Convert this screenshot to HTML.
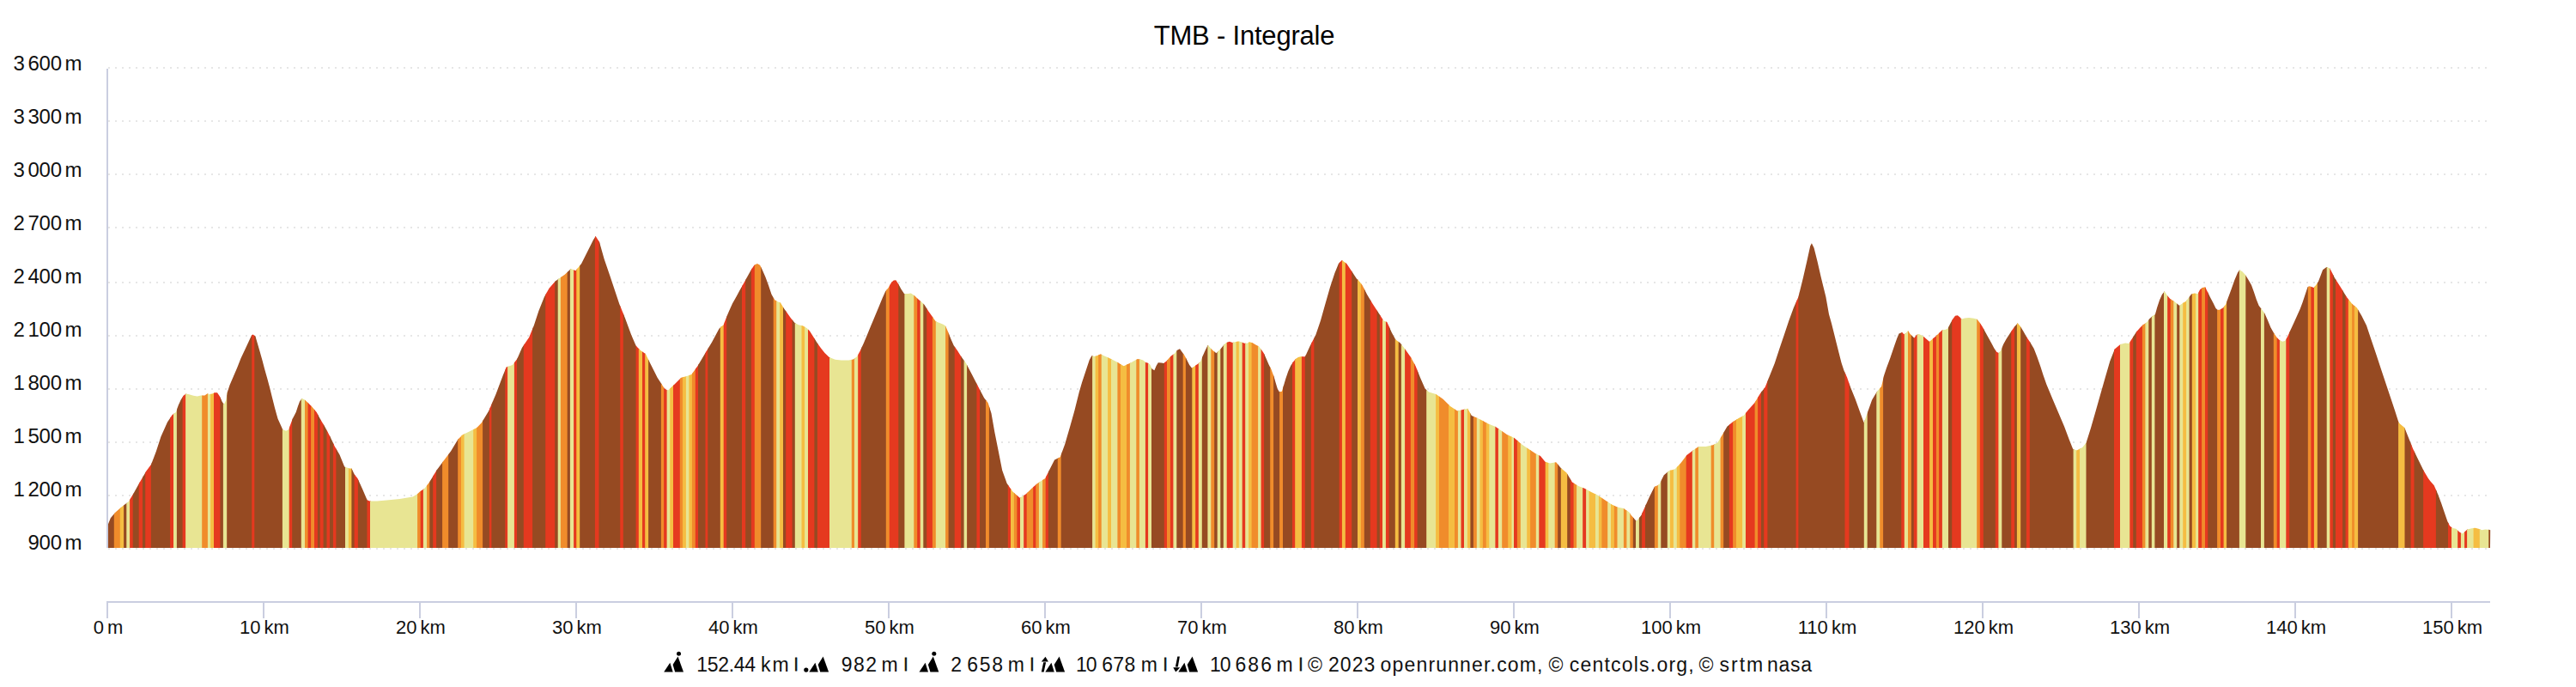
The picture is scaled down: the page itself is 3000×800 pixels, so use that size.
<!DOCTYPE html>
<html><head><meta charset="utf-8"><title>TMB - Integrale</title>
<style>html,body{margin:0;padding:0;background:#fff}svg{display:block}text{font-family:'Liberation Sans', sans-serif;fill:#111}</style></head><body>
<svg width="3000" height="800" viewBox="0 0 3000 800">
<rect width="3000" height="800" fill="#fff"/>
<g stroke="#e6e6e6" stroke-width="2" stroke-dasharray="2,6" fill="none">
<path d="M126,79 H2900"/>
<path d="M126,141 H2900"/>
<path d="M126,203 H2900"/>
<path d="M126,265 H2900"/>
<path d="M126,329 H2900"/>
<path d="M126,391 H2900"/>
<path d="M126,453 H2900"/>
<path d="M126,515 H2900"/>
<path d="M126,577 H2900"/>
<path d="M126,639 H2900"/>
</g>
<clipPath id="sil"><path d="M125,638 L125.0,614.6 L126.1,610.1 L128.8,603.2 L134.5,596.4 L142.0,590.0 L149.6,584.3 L155.3,574.9 L162.8,561.6 L170.4,548.4 L176.1,540.8 L181.8,525.7 L187.4,508.6 L195.0,491.6 L200.7,482.9 L204.9,480.0 L207.8,471.7 L210.8,465.2 L213.7,460.8 L216.6,458.6 L220.2,459.3 L225.3,460.8 L229.7,461.5 L234.1,460.4 L238.4,460.4 L241.6,458.3 L243.5,459.3 L247.2,458.6 L250.1,457.2 L253.0,457.2 L255.9,461.5 L258.8,468.1 L261.0,471.0 L263.2,465.9 L264.6,457.2 L267.5,448.4 L271.9,438.2 L276.3,428.0 L280.6,417.1 L285.0,407.7 L289.4,398.2 L293.0,390.5 L294.5,389.5 L297.4,391.6 L299.6,398.9 L302.5,409.1 L305.4,419.3 L308.3,430.2 L311.2,440.4 L314.1,451.3 L317.0,463.0 L319.9,474.6 L321.4,480.0 L323.6,487.8 L329.3,500.3 L333.1,501.8 L336.1,500.3 L340.7,487.8 L344.7,480.0 L346.9,473.2 L349.1,467.3 L351.7,464.1 L354.9,465.6 L359.2,469.5 L363.6,473.9 L368.7,480.0 L372.8,487.8 L378.5,497.3 L384.2,507.9 L389.9,520.0 L395.5,529.5 L401.2,543.5 L406.9,545.4 L409.5,545.4 L412.6,552.2 L416.4,557.1 L422.0,569.2 L427.7,582.4 L430.7,583.6 L439.1,583.6 L450.4,582.4 L465.5,580.9 L480.7,578.6 L486.4,574.9 L489.0,572.6 L494.5,568.7 L500.1,561.5 L508.4,547.7 L516.7,536.6 L525.0,525.5 L533.3,511.7 L538.8,506.2 L547.1,502.3 L555.4,497.9 L560.9,492.3 L569.2,478.5 L577.5,459.1 L585.8,437.0 L589.7,427.6 L596.9,424.9 L602.4,417.7 L607.9,404.9 L616.2,392.8 L621.8,378.9 L627.3,362.3 L633.9,345.7 L639.5,335.8 L646.7,327.5 L652.2,323.6 L657.7,319.7 L664.9,313.1 L670.4,315.3 L677.1,307.0 L685.4,290.4 L690.9,279.4 L693.7,274.9 L698.1,282.1 L703.6,301.5 L710.3,320.9 L715.8,337.4 L721.3,354.0 L728.0,370.6 L735.2,390.0 L740.7,402.7 L746.2,408.3 L751.8,412.1 L757.3,423.2 L765.6,439.8 L773.9,452.5 L777.8,454.7 L785.0,448.1 L793.3,439.8 L799.9,438.1 L805.4,435.9 L812.6,426.0 L820.9,412.1 L829.2,398.3 L837.5,382.8 L840.0,380.3 L842.6,378.6 L845.2,371.6 L848.7,362.9 L853.1,353.3 L857.5,345.4 L861.8,337.5 L866.2,329.7 L870.6,321.8 L874.9,314.0 L878.4,308.7 L881.9,307.0 L885.1,308.7 L888.0,314.8 L891.5,322.7 L895.0,332.3 L898.5,342.8 L902.0,348.9 L905.5,351.2 L909.0,352.4 L912.5,358.5 L916.8,364.6 L921.2,370.7 L925.6,376.0 L929.9,378.2 L935.2,379.5 L939.5,382.1 L943.0,385.6 L947.4,392.5 L951.8,399.5 L956.1,405.6 L960.5,410.9 L965.7,416.1 L972.7,418.7 L979.7,419.6 L988.4,419.6 L993.7,418.4 L998.0,415.3 L1001.5,409.1 L1005.9,399.5 L1010.3,389.1 L1014.6,378.6 L1019.0,368.1 L1023.4,357.6 L1027.7,347.1 L1031.2,339.3 L1034.7,334.9 L1038.2,328.8 L1040.8,326.5 L1043.4,326.2 L1046.1,330.6 L1049.5,336.7 L1053.0,341.9 L1057.4,341.9 L1060.9,341.6 L1065.3,344.5 L1068.8,348.0 L1073.1,351.5 L1076.6,355.0 L1081.0,362.0 L1085.3,368.1 L1089.7,374.2 L1094.1,376.0 L1098.4,377.7 L1101.1,379.5 L1103.7,385.6 L1107.2,394.3 L1110.7,402.2 L1115.0,408.3 L1119.4,415.3 L1122.9,420.0 L1125.2,423.2 L1132.4,437.0 L1139.6,450.9 L1146.2,463.6 L1150.6,469.1 L1154.5,481.3 L1158.4,503.4 L1162.8,525.5 L1167.2,547.7 L1172.7,563.1 L1179.4,572.6 L1187.7,579.7 L1194.9,575.3 L1201.5,568.7 L1208.1,563.1 L1216.4,557.6 L1217.0,557.6 L1222.5,546.6 L1228.1,535.5 L1234.7,532.2 L1240.2,517.2 L1245.8,497.9 L1251.3,478.5 L1256.8,456.4 L1260.0,445.5 L1262.9,436.8 L1265.8,428.0 L1268.7,419.3 L1271.4,414.2 L1274.6,414.9 L1277.5,414.2 L1281.8,412.3 L1285.5,414.2 L1289.1,415.7 L1293.5,417.8 L1297.8,420.0 L1302.2,422.2 L1305.9,424.8 L1308.8,426.3 L1312.4,424.4 L1316.8,422.5 L1321.1,420.0 L1324.8,418.1 L1328.4,418.6 L1331.3,419.6 L1334.2,421.9 L1336.4,422.5 L1339.3,424.4 L1341.5,429.5 L1344.4,431.2 L1346.6,425.9 L1348.8,422.2 L1352.4,422.5 L1355.4,422.9 L1359.0,420.0 L1361.9,416.4 L1364.8,413.8 L1367.7,412.0 L1370.6,408.0 L1374.0,406.2 L1376.5,409.8 L1379.4,413.8 L1382.3,419.3 L1385.2,425.1 L1388.1,428.8 L1391.7,425.9 L1395.4,423.4 L1398.3,420.8 L1400.5,414.9 L1403.4,408.4 L1406.7,401.8 L1409.9,405.5 L1412.9,408.4 L1416.5,411.3 L1418.7,409.1 L1421.6,406.2 L1425.2,401.8 L1428.1,398.9 L1431.8,397.8 L1435.4,398.9 L1438.3,398.2 L1442.0,397.5 L1445.6,398.2 L1449.2,399.7 L1452.2,399.7 L1455.1,398.2 L1458.7,399.2 L1462.4,401.5 L1466.0,403.3 L1468.9,406.9 L1471.8,411.3 L1474.7,417.8 L1477.6,424.4 L1480.5,430.2 L1483.5,438.2 L1485.6,445.5 L1487.8,452.8 L1490.0,456.4 L1492.9,455.7 L1495.1,448.4 L1497.3,441.1 L1500.2,432.4 L1503.1,425.9 L1506.0,421.5 L1508.9,418.1 L1511.8,416.1 L1514.8,415.2 L1520.0,415.2 L1525.7,402.7 L1532.3,390.0 L1537.9,373.4 L1543.4,354.0 L1548.9,334.7 L1554.4,318.1 L1558.9,307.0 L1562.7,303.1 L1568.3,307.0 L1573.8,315.3 L1580.4,325.3 L1581.0,325.3 L1586.5,331.9 L1592.1,343.0 L1598.7,354.0 L1605.9,365.1 L1611.4,373.4 L1615.3,375.1 L1620.8,387.2 L1625.3,395.5 L1630.8,399.4 L1636.3,406.6 L1643.0,416.0 L1648.5,426.0 L1654.0,439.8 L1659.6,452.5 L1664.0,456.4 L1672.3,459.1 L1680.6,464.7 L1688.9,473.0 L1697.2,478.5 L1703.8,476.9 L1709.3,475.7 L1713.8,484.0 L1720.4,486.8 L1725.9,489.6 L1733.1,493.4 L1741.4,496.8 L1747.0,500.6 L1755.3,506.2 L1763.6,510.0 L1771.9,517.2 L1780.1,522.8 L1788.4,528.3 L1794.0,531.1 L1799.5,537.7 L1805.0,539.4 L1812.2,538.3 L1817.8,544.9 L1824.4,550.4 L1831.0,561.5 L1838.2,565.9 L1845.4,568.7 L1852.1,572.6 L1860.4,576.4 L1868.7,582.0 L1877.0,587.5 L1884.1,590.8 L1890.8,591.9 L1897.4,596.5 L1899.7,600.0 L1905.8,607.0 L1911.4,600.0 L1915.6,590.5 L1921.2,578.1 L1926.7,567.0 L1932.3,564.3 L1937.8,553.2 L1944.4,547.7 L1945.0,547.7 L1950.5,546.6 L1957.2,539.4 L1964.4,530.0 L1971.6,524.4 L1978.2,520.0 L1986.5,520.0 L1994.8,518.3 L2000.3,515.6 L2005.9,506.2 L2011.4,496.8 L2018.0,491.2 L2025.2,486.8 L2030.7,484.0 L2036.3,476.9 L2043.5,469.1 L2050.1,458.0 L2055.6,450.9 L2061.2,437.0 L2066.7,423.2 L2072.2,406.6 L2077.8,390.0 L2083.3,373.4 L2088.8,358.5 L2094.4,345.7 L2099.9,323.6 L2104.3,304.3 L2108.2,286.6 L2109.9,283.2 L2112.6,288.8 L2116.5,304.3 L2120.9,323.6 L2126.4,345.7 L2130.0,366.0 L2132.9,376.2 L2135.8,387.8 L2138.7,399.5 L2141.6,411.1 L2144.6,422.8 L2147.5,431.5 L2151.1,439.5 L2154.7,450.0 L2160.7,464.7 L2166.3,480.2 L2170.7,492.3 L2174.6,481.3 L2180.1,465.8 L2185.6,456.4 L2191.1,450.0 L2194.1,437.3 L2197.0,428.6 L2201.3,417.0 L2205.7,403.9 L2209.3,393.7 L2211.5,388.6 L2215.2,387.1 L2217.3,389.3 L2219.5,388.1 L2222.0,384.9 L2224.6,389.0 L2227.2,391.5 L2229.3,393.7 L2231.9,390.0 L2234.8,389.0 L2238.5,390.8 L2240.6,392.2 L2244.3,395.4 L2247.2,398.0 L2250.8,394.4 L2254.5,391.5 L2258.1,388.1 L2261.7,384.6 L2266.1,383.8 L2268.6,382.3 L2271.2,376.9 L2274.1,371.8 L2277.0,367.8 L2279.9,367.2 L2282.9,369.7 L2284.3,371.8 L2288.0,370.4 L2293.0,370.1 L2298.9,370.7 L2302.5,371.8 L2305.4,375.5 L2308.3,379.8 L2312.0,386.4 L2315.6,392.9 L2319.2,399.5 L2322.2,405.3 L2325.1,409.7 L2327.7,411.1 L2330.2,408.2 L2333.1,401.0 L2336.7,394.4 L2341.1,387.8 L2345.5,381.3 L2349.8,376.2 L2352.7,379.8 L2356.4,385.7 L2360.0,392.2 L2364.4,398.8 L2368.7,406.0 L2372.4,415.5 L2376.0,425.7 L2379.7,437.3 L2383.3,447.5 L2390.9,465.8 L2397.5,481.3 L2404.1,496.8 L2409.7,511.7 L2414.1,522.8 L2418.5,524.4 L2425.2,521.1 L2429.6,515.6 L2435.1,497.9 L2440.7,478.5 L2446.2,459.1 L2451.7,439.8 L2457.3,420.4 L2462.8,406.6 L2469.4,401.1 L2475.0,399.4 L2479.3,400.0 L2483.7,393.2 L2488.0,386.6 L2492.4,381.5 L2496.0,377.9 L2499.7,375.7 L2503.3,371.3 L2507.0,367.7 L2509.9,366.2 L2512.1,358.2 L2515.0,349.5 L2517.9,342.9 L2520.8,339.3 L2523.7,343.7 L2527.3,348.0 L2531.0,350.2 L2534.6,353.1 L2538.3,356.0 L2541.9,353.1 L2545.5,351.0 L2548.5,347.3 L2552.1,342.5 L2555.7,341.5 L2559.4,342.2 L2562.3,337.1 L2565.2,334.9 L2568.1,334.2 L2571.0,340.0 L2573.9,345.9 L2577.6,353.1 L2580.5,359.0 L2582.7,361.1 L2585.6,360.4 L2589.2,358.2 L2592.1,354.6 L2595.0,346.6 L2598.7,336.4 L2602.3,326.2 L2606.0,317.5 L2608.1,314.6 L2611.1,316.0 L2614.7,319.7 L2618.3,325.5 L2622.0,332.0 L2624.9,340.0 L2627.8,348.8 L2630.7,356.0 L2633.6,359.7 L2637.3,364.8 L2640.9,372.8 L2644.5,381.5 L2648.2,388.1 L2651.8,393.2 L2655.5,396.8 L2658.4,397.8 L2661.3,396.8 L2664.2,391.7 L2667.8,383.7 L2671.5,375.7 L2675.1,367.7 L2678.7,359.7 L2681.7,351.7 L2684.6,342.9 L2687.5,334.2 L2689.7,333.2 L2692.6,334.2 L2694.8,334.9 L2697.7,331.3 L2700.0,327.7 L2705.1,314.2 L2709.5,310.9 L2713.4,312.6 L2718.9,323.6 L2726.1,334.7 L2732.8,345.7 L2739.4,354.0 L2744.9,358.5 L2750.5,367.9 L2756.0,378.9 L2761.5,395.5 L2767.1,412.1 L2772.6,428.7 L2778.1,445.3 L2783.7,461.9 L2789.2,478.5 L2793.6,492.3 L2800.3,497.9 L2804.7,508.9 L2810.2,522.8 L2816.9,536.6 L2822.4,547.7 L2827.9,557.1 L2830.1,560.0 L2834.7,565.2 L2839.3,575.7 L2843.2,586.2 L2847.2,598.0 L2850.4,607.2 L2853.1,612.4 L2856.3,615.0 L2860.3,615.7 L2864.2,619.6 L2867.5,621.6 L2870.7,619.0 L2873.4,616.6 L2878.6,615.3 L2882.5,614.8 L2886.5,615.7 L2890.4,617.2 L2894.3,616.6 L2898.3,616.7 L2900.2,617.2 L2900,638 Z"/></clipPath>
<g clip-path="url(#sil)">
<rect x="125.0" y="260" width="8.8" height="380" fill="#964a22"/>
<rect x="132.8" y="260" width="8.1" height="380" fill="#f08c2b"/>
<rect x="139.8" y="260" width="5.2" height="380" fill="#f5bd42"/>
<rect x="144.1" y="260" width="4.2" height="380" fill="#964a22"/>
<rect x="147.3" y="260" width="4.9" height="380" fill="#e8e593"/>
<rect x="151.1" y="260" width="4.5" height="380" fill="#e5391f"/>
<rect x="154.7" y="260" width="8.1" height="380" fill="#964a22"/>
<rect x="161.7" y="260" width="5.2" height="380" fill="#e5391f"/>
<rect x="166.0" y="260" width="4.2" height="380" fill="#964a22"/>
<rect x="169.2" y="260" width="7.7" height="380" fill="#e5391f"/>
<rect x="175.9" y="260" width="23.3" height="380" fill="#964a22"/>
<rect x="198.1" y="260" width="4.9" height="380" fill="#e5391f"/>
<rect x="202.0" y="260" width="4.9" height="380" fill="#e8e593"/>
<rect x="205.9" y="260" width="7.7" height="380" fill="#964a22"/>
<rect x="212.6" y="260" width="4.5" height="380" fill="#e5391f"/>
<rect x="216.1" y="260" width="20.1" height="380" fill="#e8e593"/>
<rect x="235.2" y="260" width="7.7" height="380" fill="#f08c2b"/>
<rect x="241.9" y="260" width="4.2" height="380" fill="#e8e593"/>
<rect x="245.1" y="260" width="4.9" height="380" fill="#f5bd42"/>
<rect x="249.0" y="260" width="8.4" height="380" fill="#e5391f"/>
<rect x="256.4" y="260" width="4.5" height="380" fill="#964a22"/>
<rect x="259.9" y="260" width="5.2" height="380" fill="#e8e593"/>
<rect x="264.2" y="260" width="30.0" height="380" fill="#964a22"/>
<rect x="293.2" y="260" width="4.2" height="380" fill="#e5391f"/>
<rect x="296.3" y="260" width="33.6" height="380" fill="#964a22"/>
<rect x="328.9" y="260" width="8.8" height="380" fill="#e8e593"/>
<rect x="336.7" y="260" width="4.5" height="380" fill="#e5391f"/>
<rect x="340.2" y="260" width="11.6" height="380" fill="#964a22"/>
<rect x="350.8" y="260" width="5.2" height="380" fill="#e8e593"/>
<rect x="355.0" y="260" width="4.5" height="380" fill="#f08c2b"/>
<rect x="358.6" y="260" width="4.5" height="380" fill="#e5391f"/>
<rect x="362.1" y="260" width="4.9" height="380" fill="#f08c2b"/>
<rect x="366.0" y="260" width="4.9" height="380" fill="#e5391f"/>
<rect x="369.9" y="260" width="3.8" height="380" fill="#964a22"/>
<rect x="372.7" y="260" width="4.9" height="380" fill="#e5391f"/>
<rect x="376.6" y="260" width="4.9" height="380" fill="#964a22"/>
<rect x="380.5" y="260" width="4.5" height="380" fill="#e5391f"/>
<rect x="384.0" y="260" width="4.9" height="380" fill="#964a22"/>
<rect x="387.9" y="260" width="4.5" height="380" fill="#e5391f"/>
<rect x="391.4" y="260" width="11.6" height="380" fill="#964a22"/>
<rect x="402.0" y="260" width="4.9" height="380" fill="#e8e593"/>
<rect x="405.9" y="260" width="4.5" height="380" fill="#f5bd42"/>
<rect x="409.4" y="260" width="4.2" height="380" fill="#964a22"/>
<rect x="412.6" y="260" width="5.2" height="380" fill="#e5391f"/>
<rect x="416.9" y="260" width="11.6" height="380" fill="#964a22"/>
<rect x="427.5" y="260" width="4.5" height="380" fill="#e5391f"/>
<rect x="431.0" y="260" width="56.1" height="380" fill="#e8e593"/>
<rect x="486.1" y="260" width="4.6" height="380" fill="#f08c2b"/>
<rect x="489.7" y="260" width="4.2" height="380" fill="#e5391f"/>
<rect x="492.9" y="260" width="5.2" height="380" fill="#e8e593"/>
<rect x="497.1" y="260" width="4.2" height="380" fill="#f08c2b"/>
<rect x="500.3" y="260" width="4.9" height="380" fill="#964a22"/>
<rect x="504.2" y="260" width="4.9" height="380" fill="#e5391f"/>
<rect x="508.1" y="260" width="8.1" height="380" fill="#964a22"/>
<rect x="515.1" y="260" width="8.1" height="380" fill="#f08c2b"/>
<rect x="522.2" y="260" width="12.0" height="380" fill="#964a22"/>
<rect x="533.2" y="260" width="4.9" height="380" fill="#f08c2b"/>
<rect x="537.0" y="260" width="4.5" height="380" fill="#f5bd42"/>
<rect x="540.6" y="260" width="11.6" height="380" fill="#e8e593"/>
<rect x="551.2" y="260" width="4.9" height="380" fill="#f5bd42"/>
<rect x="555.1" y="260" width="8.1" height="380" fill="#f08c2b"/>
<rect x="562.1" y="260" width="8.8" height="380" fill="#964a22"/>
<rect x="569.9" y="260" width="3.5" height="380" fill="#e5391f"/>
<rect x="572.4" y="260" width="16.9" height="380" fill="#964a22"/>
<rect x="588.3" y="260" width="3.8" height="380" fill="#e5391f"/>
<rect x="591.1" y="260" width="8.8" height="380" fill="#e8e593"/>
<rect x="598.9" y="260" width="4.2" height="380" fill="#e5391f"/>
<rect x="602.0" y="260" width="8.8" height="380" fill="#964a22"/>
<rect x="609.8" y="260" width="11.2" height="380" fill="#e5391f"/>
<rect x="620.1" y="260" width="16.2" height="380" fill="#964a22"/>
<rect x="635.2" y="260" width="12.0" height="380" fill="#e5391f"/>
<rect x="646.2" y="260" width="4.5" height="380" fill="#964a22"/>
<rect x="649.7" y="260" width="4.2" height="380" fill="#e8e593"/>
<rect x="652.9" y="260" width="8.8" height="380" fill="#f08c2b"/>
<rect x="660.7" y="260" width="4.2" height="380" fill="#964a22"/>
<rect x="663.9" y="260" width="5.2" height="380" fill="#e8e593"/>
<rect x="668.1" y="260" width="3.9" height="380" fill="#e5391f"/>
<rect x="671.0" y="260" width="1.7" height="380" fill="#f08c2b"/>
<rect x="671.7" y="260" width="4.5" height="380" fill="#f5bd42"/>
<rect x="675.2" y="260" width="18.7" height="380" fill="#964a22"/>
<rect x="692.9" y="260" width="5.6" height="380" fill="#e5391f"/>
<rect x="697.5" y="260" width="25.7" height="380" fill="#964a22"/>
<rect x="722.2" y="260" width="4.5" height="380" fill="#e5391f"/>
<rect x="725.8" y="260" width="15.8" height="380" fill="#964a22"/>
<rect x="740.6" y="260" width="4.2" height="380" fill="#e5391f"/>
<rect x="743.8" y="260" width="5.2" height="380" fill="#f5bd42"/>
<rect x="748.0" y="260" width="4.2" height="380" fill="#e5391f"/>
<rect x="751.2" y="260" width="4.9" height="380" fill="#f5bd42"/>
<rect x="755.1" y="260" width="15.8" height="380" fill="#964a22"/>
<rect x="769.9" y="260" width="4.2" height="380" fill="#f08c2b"/>
<rect x="773.1" y="260" width="4.5" height="380" fill="#e5391f"/>
<rect x="776.6" y="260" width="4.5" height="380" fill="#e8e593"/>
<rect x="780.2" y="260" width="4.9" height="380" fill="#f5bd42"/>
<rect x="784.0" y="260" width="8.8" height="380" fill="#e5391f"/>
<rect x="791.8" y="260" width="4.2" height="380" fill="#f08c2b"/>
<rect x="795.0" y="260" width="4.9" height="380" fill="#f5bd42"/>
<rect x="798.9" y="260" width="4.5" height="380" fill="#e8e593"/>
<rect x="802.4" y="260" width="4.5" height="380" fill="#f5bd42"/>
<rect x="805.9" y="260" width="4.9" height="380" fill="#f08c2b"/>
<rect x="809.8" y="260" width="4.2" height="380" fill="#e5391f"/>
<rect x="813.0" y="260" width="9.5" height="380" fill="#964a22"/>
<rect x="821.5" y="260" width="3.8" height="380" fill="#e5391f"/>
<rect x="824.3" y="260" width="15.5" height="380" fill="#964a22"/>
<rect x="838.8" y="260" width="4.9" height="380" fill="#f5bd42"/>
<rect x="842.7" y="260" width="4.5" height="380" fill="#e5391f"/>
<rect x="846.2" y="260" width="18.7" height="380" fill="#964a22"/>
<rect x="864.0" y="260" width="5.2" height="380" fill="#e5391f"/>
<rect x="868.2" y="260" width="7.7" height="380" fill="#964a22"/>
<rect x="874.9" y="260" width="4.9" height="380" fill="#e5391f"/>
<rect x="878.8" y="260" width="8.4" height="380" fill="#f08c2b"/>
<rect x="886.2" y="260" width="15.5" height="380" fill="#964a22"/>
<rect x="900.7" y="260" width="4.5" height="380" fill="#f08c2b"/>
<rect x="904.2" y="260" width="4.9" height="380" fill="#e8e593"/>
<rect x="908.1" y="260" width="4.9" height="380" fill="#f5bd42"/>
<rect x="912.0" y="260" width="4.2" height="380" fill="#964a22"/>
<rect x="915.2" y="260" width="8.4" height="380" fill="#e5391f"/>
<rect x="922.6" y="260" width="4.2" height="380" fill="#964a22"/>
<rect x="925.8" y="260" width="8.8" height="380" fill="#e8e593"/>
<rect x="933.5" y="260" width="4.5" height="380" fill="#f5bd42"/>
<rect x="937.1" y="260" width="4.9" height="380" fill="#e8e593"/>
<rect x="941.0" y="260" width="8.4" height="380" fill="#e5391f"/>
<rect x="948.4" y="260" width="4.5" height="380" fill="#964a22"/>
<rect x="951.9" y="260" width="15.1" height="380" fill="#e5391f"/>
<rect x="966.0" y="260" width="26.8" height="380" fill="#e8e593"/>
<rect x="991.8" y="260" width="4.2" height="380" fill="#f08c2b"/>
<rect x="995.0" y="260" width="5.2" height="380" fill="#e8e593"/>
<rect x="999.2" y="260" width="4.5" height="380" fill="#e5391f"/>
<rect x="1002.8" y="260" width="30.0" height="380" fill="#964a22"/>
<rect x="1031.8" y="260" width="5.1" height="380" fill="#f08c2b"/>
<rect x="1035.8" y="260" width="11.5" height="380" fill="#e5391f"/>
<rect x="1046.3" y="260" width="8.1" height="380" fill="#964a22"/>
<rect x="1053.4" y="260" width="12.0" height="380" fill="#e8e593"/>
<rect x="1064.3" y="260" width="4.9" height="380" fill="#f08c2b"/>
<rect x="1068.2" y="260" width="4.5" height="380" fill="#e5391f"/>
<rect x="1071.7" y="260" width="4.5" height="380" fill="#e8e593"/>
<rect x="1075.3" y="260" width="4.9" height="380" fill="#964a22"/>
<rect x="1079.2" y="260" width="7.7" height="380" fill="#e5391f"/>
<rect x="1085.9" y="260" width="4.9" height="380" fill="#f08c2b"/>
<rect x="1089.8" y="260" width="12.3" height="380" fill="#e8e593"/>
<rect x="1101.1" y="260" width="4.5" height="380" fill="#f08c2b"/>
<rect x="1104.6" y="260" width="8.1" height="380" fill="#964a22"/>
<rect x="1111.7" y="260" width="8.4" height="380" fill="#e5391f"/>
<rect x="1119.1" y="260" width="4.5" height="380" fill="#964a22"/>
<rect x="1122.6" y="260" width="4.5" height="380" fill="#e8e593"/>
<rect x="1126.1" y="260" width="12.3" height="380" fill="#964a22"/>
<rect x="1137.4" y="260" width="4.5" height="380" fill="#e5391f"/>
<rect x="1141.0" y="260" width="8.1" height="380" fill="#964a22"/>
<rect x="1148.0" y="260" width="4.9" height="380" fill="#f08c2b"/>
<rect x="1151.9" y="260" width="22.9" height="380" fill="#964a22"/>
<rect x="1173.8" y="260" width="4.2" height="380" fill="#e5391f"/>
<rect x="1177.0" y="260" width="4.9" height="380" fill="#f5bd42"/>
<rect x="1180.9" y="260" width="4.5" height="380" fill="#f08c2b"/>
<rect x="1184.4" y="260" width="4.5" height="380" fill="#e5391f"/>
<rect x="1188.0" y="260" width="5.2" height="380" fill="#e8e593"/>
<rect x="1192.2" y="260" width="4.5" height="380" fill="#e5391f"/>
<rect x="1195.7" y="260" width="8.4" height="380" fill="#f08c2b"/>
<rect x="1203.2" y="260" width="4.2" height="380" fill="#e5391f"/>
<rect x="1206.3" y="260" width="4.5" height="380" fill="#f08c2b"/>
<rect x="1209.9" y="260" width="5.2" height="380" fill="#e8e593"/>
<rect x="1214.1" y="260" width="4.6" height="380" fill="#f08c2b"/>
<rect x="1217.7" y="260" width="4.2" height="380" fill="#e5391f"/>
<rect x="1220.9" y="260" width="12.0" height="380" fill="#964a22"/>
<rect x="1231.8" y="260" width="4.9" height="380" fill="#f08c2b"/>
<rect x="1235.7" y="260" width="37.4" height="380" fill="#964a22"/>
<rect x="1272.1" y="260" width="4.5" height="380" fill="#e8e593"/>
<rect x="1275.6" y="260" width="4.5" height="380" fill="#f5bd42"/>
<rect x="1279.2" y="260" width="4.5" height="380" fill="#f08c2b"/>
<rect x="1282.7" y="260" width="8.4" height="380" fill="#e8e593"/>
<rect x="1290.1" y="260" width="4.9" height="380" fill="#f5bd42"/>
<rect x="1294.0" y="260" width="8.4" height="380" fill="#e8e593"/>
<rect x="1301.4" y="260" width="4.5" height="380" fill="#f08c2b"/>
<rect x="1305.0" y="260" width="8.1" height="380" fill="#f5bd42"/>
<rect x="1312.0" y="260" width="4.9" height="380" fill="#f08c2b"/>
<rect x="1315.9" y="260" width="8.4" height="380" fill="#e8e593"/>
<rect x="1323.3" y="260" width="4.5" height="380" fill="#f08c2b"/>
<rect x="1326.9" y="260" width="8.1" height="380" fill="#e8e593"/>
<rect x="1333.9" y="260" width="4.2" height="380" fill="#e5391f"/>
<rect x="1337.1" y="260" width="4.9" height="380" fill="#e8e593"/>
<rect x="1341.0" y="260" width="15.8" height="380" fill="#964a22"/>
<rect x="1355.8" y="260" width="4.2" height="380" fill="#e5391f"/>
<rect x="1359.0" y="260" width="4.9" height="380" fill="#f08c2b"/>
<rect x="1362.9" y="260" width="4.5" height="380" fill="#e5391f"/>
<rect x="1366.4" y="260" width="4.9" height="380" fill="#e8e593"/>
<rect x="1370.3" y="260" width="8.4" height="380" fill="#964a22"/>
<rect x="1377.7" y="260" width="4.2" height="380" fill="#f08c2b"/>
<rect x="1380.9" y="260" width="8.4" height="380" fill="#964a22"/>
<rect x="1388.3" y="260" width="4.9" height="380" fill="#f5bd42"/>
<rect x="1392.2" y="260" width="4.5" height="380" fill="#e5391f"/>
<rect x="1395.8" y="260" width="5.1" height="380" fill="#e8e593"/>
<rect x="1399.8" y="260" width="7.6" height="380" fill="#964a22"/>
<rect x="1406.4" y="260" width="4.9" height="380" fill="#e8e593"/>
<rect x="1410.3" y="260" width="4.9" height="380" fill="#f08c2b"/>
<rect x="1414.2" y="260" width="4.5" height="380" fill="#964a22"/>
<rect x="1417.7" y="260" width="4.5" height="380" fill="#e8e593"/>
<rect x="1421.3" y="260" width="4.5" height="380" fill="#964a22"/>
<rect x="1424.8" y="260" width="4.9" height="380" fill="#e8e593"/>
<rect x="1428.7" y="260" width="8.1" height="380" fill="#e5391f"/>
<rect x="1435.7" y="260" width="4.9" height="380" fill="#e8e593"/>
<rect x="1439.6" y="260" width="4.2" height="380" fill="#f5bd42"/>
<rect x="1442.8" y="260" width="4.9" height="380" fill="#e8e593"/>
<rect x="1446.7" y="260" width="4.5" height="380" fill="#e5391f"/>
<rect x="1450.2" y="260" width="4.9" height="380" fill="#e8e593"/>
<rect x="1454.1" y="260" width="4.5" height="380" fill="#f5bd42"/>
<rect x="1457.6" y="260" width="8.4" height="380" fill="#f08c2b"/>
<rect x="1465.1" y="260" width="4.5" height="380" fill="#e8e593"/>
<rect x="1468.6" y="260" width="4.5" height="380" fill="#e5391f"/>
<rect x="1472.1" y="260" width="8.1" height="380" fill="#964a22"/>
<rect x="1479.2" y="260" width="4.9" height="380" fill="#f08c2b"/>
<rect x="1483.1" y="260" width="8.1" height="380" fill="#964a22"/>
<rect x="1490.1" y="260" width="4.9" height="380" fill="#f08c2b"/>
<rect x="1494.0" y="260" width="12.0" height="380" fill="#964a22"/>
<rect x="1505.0" y="260" width="4.2" height="380" fill="#e5391f"/>
<rect x="1508.2" y="260" width="8.8" height="380" fill="#f5bd42"/>
<rect x="1515.9" y="260" width="4.9" height="380" fill="#e5391f"/>
<rect x="1519.8" y="260" width="8.1" height="380" fill="#964a22"/>
<rect x="1526.9" y="260" width="4.5" height="380" fill="#e5391f"/>
<rect x="1530.4" y="260" width="30.3" height="380" fill="#964a22"/>
<rect x="1559.7" y="260" width="4.2" height="380" fill="#e5391f"/>
<rect x="1562.9" y="260" width="4.9" height="380" fill="#f5bd42"/>
<rect x="1566.8" y="260" width="8.4" height="380" fill="#e5391f"/>
<rect x="1574.2" y="260" width="7.8" height="380" fill="#964a22"/>
<rect x="1581.0" y="260" width="4.9" height="380" fill="#f5bd42"/>
<rect x="1584.9" y="260" width="4.9" height="380" fill="#f08c2b"/>
<rect x="1588.8" y="260" width="8.1" height="380" fill="#964a22"/>
<rect x="1595.8" y="260" width="8.8" height="380" fill="#e5391f"/>
<rect x="1603.6" y="260" width="4.2" height="380" fill="#964a22"/>
<rect x="1606.8" y="260" width="4.2" height="380" fill="#e5391f"/>
<rect x="1610.0" y="260" width="4.9" height="380" fill="#e8e593"/>
<rect x="1613.9" y="260" width="4.9" height="380" fill="#e5391f"/>
<rect x="1617.7" y="260" width="8.1" height="380" fill="#964a22"/>
<rect x="1624.8" y="260" width="4.9" height="380" fill="#f5bd42"/>
<rect x="1628.7" y="260" width="4.2" height="380" fill="#964a22"/>
<rect x="1631.9" y="260" width="5.2" height="380" fill="#e8e593"/>
<rect x="1636.1" y="260" width="7.7" height="380" fill="#e5391f"/>
<rect x="1642.8" y="260" width="5.2" height="380" fill="#f08c2b"/>
<rect x="1647.1" y="260" width="4.5" height="380" fill="#e5391f"/>
<rect x="1650.6" y="260" width="11.6" height="380" fill="#964a22"/>
<rect x="1661.2" y="260" width="12.0" height="380" fill="#e8e593"/>
<rect x="1672.1" y="260" width="4.9" height="380" fill="#f5bd42"/>
<rect x="1676.0" y="260" width="12.0" height="380" fill="#f08c2b"/>
<rect x="1687.0" y="260" width="8.1" height="380" fill="#f5bd42"/>
<rect x="1694.0" y="260" width="4.9" height="380" fill="#f08c2b"/>
<rect x="1697.9" y="260" width="4.5" height="380" fill="#e8e593"/>
<rect x="1701.5" y="260" width="4.5" height="380" fill="#e5391f"/>
<rect x="1705.0" y="260" width="4.9" height="380" fill="#e8e593"/>
<rect x="1708.9" y="260" width="4.5" height="380" fill="#f5bd42"/>
<rect x="1712.4" y="260" width="4.5" height="380" fill="#964a22"/>
<rect x="1715.9" y="260" width="4.9" height="380" fill="#f08c2b"/>
<rect x="1719.8" y="260" width="4.5" height="380" fill="#e8e593"/>
<rect x="1723.4" y="260" width="4.5" height="380" fill="#f5bd42"/>
<rect x="1726.9" y="260" width="4.9" height="380" fill="#f08c2b"/>
<rect x="1730.8" y="260" width="4.5" height="380" fill="#f5bd42"/>
<rect x="1734.3" y="260" width="8.1" height="380" fill="#e8e593"/>
<rect x="1741.4" y="260" width="4.5" height="380" fill="#e5391f"/>
<rect x="1744.9" y="260" width="5.2" height="380" fill="#e8e593"/>
<rect x="1749.2" y="260" width="8.1" height="380" fill="#f08c2b"/>
<rect x="1756.2" y="260" width="5.2" height="380" fill="#f5bd42"/>
<rect x="1760.5" y="260" width="3.5" height="380" fill="#e8e593"/>
<rect x="1763.0" y="260" width="4.9" height="380" fill="#e5391f"/>
<rect x="1766.9" y="260" width="4.9" height="380" fill="#f08c2b"/>
<rect x="1770.8" y="260" width="8.4" height="380" fill="#e8e593"/>
<rect x="1778.2" y="260" width="4.9" height="380" fill="#f5bd42"/>
<rect x="1782.1" y="260" width="7.7" height="380" fill="#f08c2b"/>
<rect x="1788.8" y="260" width="4.5" height="380" fill="#e8e593"/>
<rect x="1792.3" y="260" width="8.4" height="380" fill="#e5391f"/>
<rect x="1799.7" y="260" width="4.5" height="380" fill="#f5bd42"/>
<rect x="1803.3" y="260" width="8.4" height="380" fill="#e8e593"/>
<rect x="1810.7" y="260" width="4.5" height="380" fill="#f08c2b"/>
<rect x="1814.2" y="260" width="4.5" height="380" fill="#964a22"/>
<rect x="1817.8" y="260" width="8.4" height="380" fill="#f5bd42"/>
<rect x="1825.2" y="260" width="4.5" height="380" fill="#964a22"/>
<rect x="1828.7" y="260" width="4.9" height="380" fill="#e5391f"/>
<rect x="1832.6" y="260" width="4.5" height="380" fill="#f08c2b"/>
<rect x="1836.1" y="260" width="8.1" height="380" fill="#e8e593"/>
<rect x="1843.2" y="260" width="4.9" height="380" fill="#e5391f"/>
<rect x="1847.1" y="260" width="4.5" height="380" fill="#e8e593"/>
<rect x="1850.6" y="260" width="8.4" height="380" fill="#f5bd42"/>
<rect x="1858.0" y="260" width="4.9" height="380" fill="#e8e593"/>
<rect x="1861.9" y="260" width="4.5" height="380" fill="#f5bd42"/>
<rect x="1865.4" y="260" width="7.7" height="380" fill="#f08c2b"/>
<rect x="1872.2" y="260" width="4.9" height="380" fill="#e8e593"/>
<rect x="1876.0" y="260" width="4.9" height="380" fill="#f5bd42"/>
<rect x="1879.9" y="260" width="4.5" height="380" fill="#f08c2b"/>
<rect x="1883.5" y="260" width="8.4" height="380" fill="#e8e593"/>
<rect x="1890.9" y="260" width="4.5" height="380" fill="#f08c2b"/>
<rect x="1894.4" y="260" width="4.9" height="380" fill="#e8e593"/>
<rect x="1898.3" y="260" width="4.5" height="380" fill="#f08c2b"/>
<rect x="1901.8" y="260" width="4.2" height="380" fill="#964a22"/>
<rect x="1905.0" y="260" width="4.9" height="380" fill="#e8e593"/>
<rect x="1908.9" y="260" width="4.2" height="380" fill="#964a22"/>
<rect x="1912.1" y="260" width="4.9" height="380" fill="#e5391f"/>
<rect x="1916.0" y="260" width="12.0" height="380" fill="#964a22"/>
<rect x="1926.9" y="260" width="4.9" height="380" fill="#f08c2b"/>
<rect x="1930.8" y="260" width="4.5" height="380" fill="#e8e593"/>
<rect x="1934.3" y="260" width="8.4" height="380" fill="#964a22"/>
<rect x="1941.8" y="260" width="4.2" height="380" fill="#e8e593"/>
<rect x="1945.0" y="260" width="4.9" height="380" fill="#f5bd42"/>
<rect x="1948.9" y="260" width="4.9" height="380" fill="#e8e593"/>
<rect x="1952.8" y="260" width="4.5" height="380" fill="#f5bd42"/>
<rect x="1956.3" y="260" width="8.4" height="380" fill="#f08c2b"/>
<rect x="1963.7" y="260" width="8.1" height="380" fill="#e5391f"/>
<rect x="1970.8" y="260" width="4.5" height="380" fill="#e8e593"/>
<rect x="1974.3" y="260" width="4.5" height="380" fill="#f08c2b"/>
<rect x="1977.9" y="260" width="15.8" height="380" fill="#e8e593"/>
<rect x="1992.7" y="260" width="4.5" height="380" fill="#f08c2b"/>
<rect x="1996.2" y="260" width="8.4" height="380" fill="#e8e593"/>
<rect x="2003.6" y="260" width="4.5" height="380" fill="#f08c2b"/>
<rect x="2007.2" y="260" width="7.7" height="380" fill="#964a22"/>
<rect x="2013.9" y="260" width="5.2" height="380" fill="#e5391f"/>
<rect x="2018.1" y="260" width="4.9" height="380" fill="#f08c2b"/>
<rect x="2022.0" y="260" width="8.1" height="380" fill="#f5bd42"/>
<rect x="2029.1" y="260" width="4.9" height="380" fill="#e8e593"/>
<rect x="2033.0" y="260" width="11.6" height="380" fill="#e5391f"/>
<rect x="2043.6" y="260" width="4.5" height="380" fill="#f08c2b"/>
<rect x="2047.1" y="260" width="4.9" height="380" fill="#e5391f"/>
<rect x="2051.0" y="260" width="4.2" height="380" fill="#964a22"/>
<rect x="2054.2" y="260" width="5.2" height="380" fill="#e5391f"/>
<rect x="2058.4" y="260" width="34.2" height="380" fill="#964a22"/>
<rect x="2091.6" y="260" width="3.8" height="380" fill="#e5391f"/>
<rect x="2094.4" y="260" width="55.1" height="380" fill="#964a22"/>
<rect x="2148.5" y="260" width="5.9" height="380" fill="#e5391f"/>
<rect x="2153.5" y="260" width="18.3" height="380" fill="#964a22"/>
<rect x="2170.8" y="260" width="4.9" height="380" fill="#e8e593"/>
<rect x="2174.7" y="260" width="11.6" height="380" fill="#964a22"/>
<rect x="2185.3" y="260" width="4.9" height="380" fill="#e8e593"/>
<rect x="2189.2" y="260" width="4.9" height="380" fill="#f08c2b"/>
<rect x="2193.1" y="260" width="22.2" height="380" fill="#964a22"/>
<rect x="2214.3" y="260" width="4.5" height="380" fill="#e5391f"/>
<rect x="2217.8" y="260" width="5.2" height="380" fill="#e8e593"/>
<rect x="2222.0" y="260" width="4.9" height="380" fill="#f08c2b"/>
<rect x="2225.9" y="260" width="3.8" height="380" fill="#964a22"/>
<rect x="2228.7" y="260" width="4.9" height="380" fill="#e5391f"/>
<rect x="2232.6" y="260" width="8.4" height="380" fill="#e8e593"/>
<rect x="2240.0" y="260" width="8.1" height="380" fill="#e5391f"/>
<rect x="2247.1" y="260" width="4.9" height="380" fill="#f5bd42"/>
<rect x="2251.0" y="260" width="4.9" height="380" fill="#e5391f"/>
<rect x="2254.9" y="260" width="4.2" height="380" fill="#f08c2b"/>
<rect x="2258.1" y="260" width="4.9" height="380" fill="#e5391f"/>
<rect x="2261.9" y="260" width="8.1" height="380" fill="#e8e593"/>
<rect x="2269.0" y="260" width="5.2" height="380" fill="#964a22"/>
<rect x="2273.2" y="260" width="11.6" height="380" fill="#e5391f"/>
<rect x="2283.8" y="260" width="19.4" height="380" fill="#e8e593"/>
<rect x="2302.2" y="260" width="4.5" height="380" fill="#f08c2b"/>
<rect x="2305.8" y="260" width="5.1" height="380" fill="#e5391f"/>
<rect x="2309.8" y="260" width="15.0" height="380" fill="#964a22"/>
<rect x="2323.8" y="260" width="4.5" height="380" fill="#e5391f"/>
<rect x="2327.4" y="260" width="4.9" height="380" fill="#e8e593"/>
<rect x="2331.3" y="260" width="12.0" height="380" fill="#964a22"/>
<rect x="2342.2" y="260" width="4.9" height="380" fill="#e5391f"/>
<rect x="2346.1" y="260" width="3.8" height="380" fill="#964a22"/>
<rect x="2348.9" y="260" width="5.2" height="380" fill="#f5bd42"/>
<rect x="2353.2" y="260" width="7.7" height="380" fill="#964a22"/>
<rect x="2359.9" y="260" width="4.9" height="380" fill="#e5391f"/>
<rect x="2363.8" y="260" width="51.9" height="380" fill="#964a22"/>
<rect x="2414.6" y="260" width="4.5" height="380" fill="#e8e593"/>
<rect x="2418.2" y="260" width="4.9" height="380" fill="#f5bd42"/>
<rect x="2422.0" y="260" width="8.4" height="380" fill="#e8e593"/>
<rect x="2429.5" y="260" width="33.5" height="380" fill="#964a22"/>
<rect x="2462.0" y="260" width="8.1" height="380" fill="#e5391f"/>
<rect x="2469.0" y="260" width="12.3" height="380" fill="#e8e593"/>
<rect x="2480.3" y="260" width="4.9" height="380" fill="#e5391f"/>
<rect x="2484.2" y="260" width="4.5" height="380" fill="#964a22"/>
<rect x="2487.8" y="260" width="8.1" height="380" fill="#e5391f"/>
<rect x="2494.9" y="260" width="4.5" height="380" fill="#f08c2b"/>
<rect x="2498.4" y="260" width="4.9" height="380" fill="#e8e593"/>
<rect x="2502.3" y="260" width="4.5" height="380" fill="#964a22"/>
<rect x="2505.8" y="260" width="4.5" height="380" fill="#e8e593"/>
<rect x="2509.4" y="260" width="11.6" height="380" fill="#964a22"/>
<rect x="2520.0" y="260" width="5.2" height="380" fill="#e8e593"/>
<rect x="2524.2" y="260" width="4.5" height="380" fill="#e5391f"/>
<rect x="2527.7" y="260" width="4.5" height="380" fill="#f08c2b"/>
<rect x="2531.3" y="260" width="4.9" height="380" fill="#e8e593"/>
<rect x="2535.2" y="260" width="4.2" height="380" fill="#964a22"/>
<rect x="2538.3" y="260" width="4.9" height="380" fill="#e8e593"/>
<rect x="2542.2" y="260" width="4.9" height="380" fill="#f5bd42"/>
<rect x="2546.1" y="260" width="4.5" height="380" fill="#e8e593"/>
<rect x="2549.6" y="260" width="4.2" height="380" fill="#964a22"/>
<rect x="2552.8" y="260" width="5.2" height="380" fill="#f5bd42"/>
<rect x="2557.1" y="260" width="4.2" height="380" fill="#e8e593"/>
<rect x="2560.2" y="260" width="4.9" height="380" fill="#e5391f"/>
<rect x="2564.1" y="260" width="4.9" height="380" fill="#f08c2b"/>
<rect x="2568.0" y="260" width="4.2" height="380" fill="#e5391f"/>
<rect x="2571.2" y="260" width="12.0" height="380" fill="#964a22"/>
<rect x="2582.1" y="260" width="4.9" height="380" fill="#f08c2b"/>
<rect x="2586.0" y="260" width="4.5" height="380" fill="#e5391f"/>
<rect x="2589.6" y="260" width="4.5" height="380" fill="#f5bd42"/>
<rect x="2593.1" y="260" width="15.8" height="380" fill="#964a22"/>
<rect x="2607.9" y="260" width="8.4" height="380" fill="#e8e593"/>
<rect x="2615.3" y="260" width="18.7" height="380" fill="#964a22"/>
<rect x="2633.0" y="260" width="4.9" height="380" fill="#e8e593"/>
<rect x="2636.9" y="260" width="12.0" height="380" fill="#964a22"/>
<rect x="2647.8" y="260" width="4.9" height="380" fill="#f08c2b"/>
<rect x="2651.7" y="260" width="4.2" height="380" fill="#e5391f"/>
<rect x="2654.9" y="260" width="8.4" height="380" fill="#e8e593"/>
<rect x="2662.3" y="260" width="4.9" height="380" fill="#e5391f"/>
<rect x="2666.2" y="260" width="22.6" height="380" fill="#964a22"/>
<rect x="2687.8" y="260" width="4.5" height="380" fill="#f08c2b"/>
<rect x="2691.4" y="260" width="4.5" height="380" fill="#e5391f"/>
<rect x="2694.9" y="260" width="4.9" height="380" fill="#f5bd42"/>
<rect x="2698.8" y="260" width="12.0" height="380" fill="#964a22"/>
<rect x="2709.7" y="260" width="4.5" height="380" fill="#e8e593"/>
<rect x="2713.3" y="260" width="4.5" height="380" fill="#e5391f"/>
<rect x="2716.8" y="260" width="4.2" height="380" fill="#964a22"/>
<rect x="2720.0" y="260" width="9.1" height="380" fill="#e5391f"/>
<rect x="2728.1" y="260" width="4.5" height="380" fill="#964a22"/>
<rect x="2731.6" y="260" width="4.2" height="380" fill="#e5391f"/>
<rect x="2734.8" y="260" width="5.2" height="380" fill="#f5bd42"/>
<rect x="2739.1" y="260" width="3.8" height="380" fill="#f08c2b"/>
<rect x="2741.9" y="260" width="5.2" height="380" fill="#f5bd42"/>
<rect x="2746.1" y="260" width="48.0" height="380" fill="#964a22"/>
<rect x="2793.1" y="260" width="8.4" height="380" fill="#f5bd42"/>
<rect x="2800.5" y="260" width="8.1" height="380" fill="#964a22"/>
<rect x="2807.6" y="260" width="4.9" height="380" fill="#e5391f"/>
<rect x="2811.5" y="260" width="11.6" height="380" fill="#964a22"/>
<rect x="2822.1" y="260" width="15.8" height="380" fill="#e5391f"/>
<rect x="2836.9" y="260" width="15.1" height="380" fill="#964a22"/>
<rect x="2851.0" y="260" width="5.0" height="380" fill="#e5391f"/>
<rect x="2855.0" y="260" width="8.2" height="380" fill="#e8e593"/>
<rect x="2862.2" y="260" width="4.7" height="380" fill="#e5391f"/>
<rect x="2865.9" y="260" width="5.2" height="380" fill="#e8e593"/>
<rect x="2870.1" y="260" width="4.0" height="380" fill="#e5391f"/>
<rect x="2873.1" y="260" width="8.5" height="380" fill="#e8e593"/>
<rect x="2880.6" y="260" width="8.2" height="380" fill="#f5bd42"/>
<rect x="2887.8" y="260" width="11.5" height="380" fill="#e8e593"/>
<rect x="2898.3" y="260" width="2.7" height="380" fill="#964a22"/>
</g>
<g stroke="#cacee0" stroke-width="2" fill="none">
<path d="M125,80 V638"/>
<path d="M125,701 H2900"/>
<path d="M125,700 V720"/>
<path d="M307,700 V720"/>
<path d="M489,700 V720"/>
<path d="M671,700 V720"/>
<path d="M853,700 V720"/>
<path d="M1035,700 V720"/>
<path d="M1217,700 V720"/>
<path d="M1399,700 V720"/>
<path d="M1581,700 V720"/>
<path d="M1763,700 V720"/>
<path d="M1945,700 V720"/>
<path d="M2127,700 V720"/>
<path d="M2309,700 V720"/>
<path d="M2491,700 V720"/>
<path d="M2673,700 V720"/>
<path d="M2855,700 V720"/>
</g>
<g font-size="24" text-anchor="end" style="word-spacing:-2.6px;letter-spacing:-0.25px">
<text x="95.3" y="82.3">3 600 m</text>
<text x="95.3" y="144.2">3 300 m</text>
<text x="95.3" y="206.1">3 000 m</text>
<text x="95.3" y="268.1">2 700 m</text>
<text x="95.3" y="330.0">2 400 m</text>
<text x="95.3" y="391.9">2 100 m</text>
<text x="95.3" y="453.8">1 800 m</text>
<text x="95.3" y="515.7">1 500 m</text>
<text x="95.3" y="577.7">1 200 m</text>
<text x="95.3" y="639.6">900 m</text>
</g>
<g font-size="22" text-anchor="middle" style="word-spacing:-2px">
<text x="126" y="738">0 m</text>
<text x="308" y="738">10 km</text>
<text x="490" y="738">20 km</text>
<text x="672" y="738">30 km</text>
<text x="854" y="738">40 km</text>
<text x="1036" y="738">50 km</text>
<text x="1218" y="738">60 km</text>
<text x="1400" y="738">70 km</text>
<text x="1582" y="738">80 km</text>
<text x="1764" y="738">90 km</text>
<text x="1946" y="738">100 km</text>
<text x="2128" y="738">110 km</text>
<text x="2310" y="738">120 km</text>
<text x="2492" y="738">130 km</text>
<text x="2674" y="738">140 km</text>
<text x="2856" y="738">150 km</text>
</g>
<text x="1449" y="52" font-size="31" text-anchor="middle" style="letter-spacing:-0.2px;fill:#000">TMB - Integrale</text>
<g font-size="23">
<text x="811.3" y="781.8" style="letter-spacing:-0.33px">152.44</text>
<text x="886.0" y="781.8" style="letter-spacing:2.10px">km</text>
<text x="927.2" y="778.3" font-size="16.5" text-anchor="middle" stroke="#111" stroke-width="0.9">|</text>
<text x="979.8" y="781.8" style="letter-spacing:1.41px">982</text>
<text x="1026.4" y="781.8" style="letter-spacing:0.00px">m</text>
<text x="1054.8" y="778.3" font-size="16.5" text-anchor="middle" stroke="#111" stroke-width="0.9">|</text>
<text x="1107.2" y="781.8" style="letter-spacing:0.00px">2</text>
<text x="1126.3" y="781.8" style="letter-spacing:1.71px">658</text>
<text x="1173.8" y="781.8" style="letter-spacing:0.00px">m</text>
<text x="1201.8" y="778.3" font-size="16.5" text-anchor="middle" stroke="#111" stroke-width="0.9">|</text>
<text x="1253.0" y="781.8" style="letter-spacing:-1.00px">10</text>
<text x="1283.2" y="781.8" style="letter-spacing:0.36px">678</text>
<text x="1328.7" y="781.8" style="letter-spacing:0.00px">m</text>
<text x="1357.1" y="778.3" font-size="16.5" text-anchor="middle" stroke="#111" stroke-width="0.9">|</text>
<text x="1408.9" y="781.8" style="letter-spacing:-1.00px">10</text>
<text x="1438.4" y="781.8" style="letter-spacing:2.11px">686</text>
<text x="1486.6" y="781.8" style="letter-spacing:0.00px">m</text>
<text x="1515.0" y="778.3" font-size="16.5" text-anchor="middle" stroke="#111" stroke-width="0.9">|</text>
<text x="1523.0" y="781.8" style="letter-spacing:0.00px">©</text>
<text x="1547.1" y="781.8" style="letter-spacing:0.98px">2023</text>
<text x="1607.6" y="781.8" style="letter-spacing:1.16px">openrunner.com,</text>
<text x="1803.4" y="781.8" style="letter-spacing:0.00px">©</text>
<text x="1827.7" y="781.8" style="letter-spacing:1.22px">centcols.org,</text>
<text x="1978.4" y="781.8" style="letter-spacing:0.00px">©</text>
<text x="2002.4" y="781.8" style="letter-spacing:2.05px">srtm</text>
<text x="2058.1" y="781.8" style="letter-spacing:0.71px">nasa</text>
</g>
<g fill="#000">
<path d="M773.2,782.5 L783.7,782.5 L780.3,771.8 Z"/><path d="M789.5,764.6 L796.0,782.5 L786.1,782.5 L783.6,773.9 Z"/><circle cx="790.5" cy="761.3" r="2.5"/>
<path d="M1070.5,782.5 L1081.0,782.5 L1077.6,771.8 Z"/><path d="M1086.8,764.6 L1093.3,782.5 L1083.4,782.5 L1080.9,773.9 Z"/><circle cx="1087.8" cy="761.3" r="2.5"/>
<circle cx="938.8" cy="780.1" r="2.6"/><path d="M942.3,782.5 L952.8,782.5 L949.4,771.8 Z"/><path d="M958.6,764.6 L965.1,782.5 L955.2,782.5 L952.7,773.9 Z"/>
<path d="M1212.8,770.5 L1220.9,770.5 L1217.5,764.7 Z"/><path d="M1215.2,771.3 L1218.1,771.3 L1215.7,782.5 L1212.8,782.5 Z"/><path d="M1217.3,782.5 L1227.8,782.5 L1224.4,771.8 Z"/><path d="M1233.6,764.6 L1240.1,782.5 L1230.2,782.5 L1227.7,773.9 Z"/>
<path d="M1371.3,764.6 L1373.9,764.6 L1371.8,776.6 L1368.9,776.6 Z"/><path d="M1366.3,777.3 L1374.2,777.3 L1371.5,780.2 L1369.2,782.6 Z"/><path d="M1372.3,782.5 L1382.8,782.5 L1379.4,771.8 Z"/><path d="M1388.6,764.6 L1395.1,782.5 L1385.2,782.5 L1382.7,773.9 Z"/>
</g>
</svg></body></html>
